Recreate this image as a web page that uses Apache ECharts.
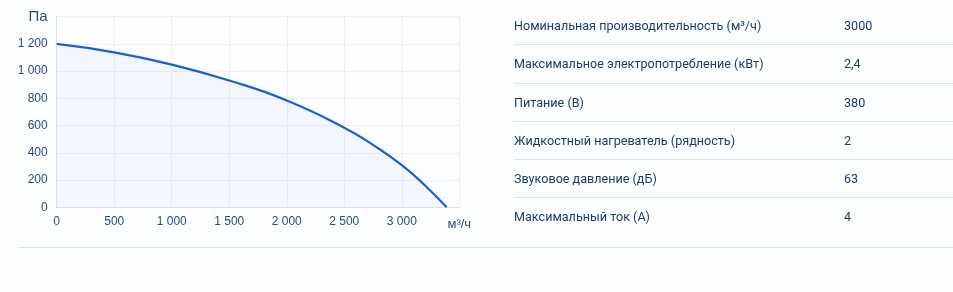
<!DOCTYPE html>
<html>
<head>
<meta charset="utf-8">
<script src="https://cdn.jsdelivr.net/npm/echarts@6/dist/echarts.min.js"></script>
<style>
  html, body { margin: 0; padding: 0; background: #fcfdff; }
  #wrap { position: relative; width: 953px; height: 292px; }
  #chart { position: absolute; left: 0; top: 0; width: 953px; height: 292px; }
  #specs { position: absolute; left: 514px; top: 7px; width: 439px; font-family: Roboto, "Noto Sans", sans-serif; font-size: 12.6px; color: #1f3a6e; }
  .row { height: 37.3px; border-bottom: 1px solid #dfe3ec; position: relative; }
  .row span { position: absolute; top: 11px; }
  .row .v { left: 330px; }
  #bottomLine { position: absolute; left: 19px; top: 247px; width: 934px; border-top: 1px solid #dfe3ec; }
</style>
</head>
<body>
<div id="wrap">
  <div id="chart"></div>
  <div id="specs"></div>
  <div id="bottomLine"></div>
</div>
<script>
// performance curve: airflow (m3/h) vs pressure (Pa)
const flow = [0, 500, 1000, 1500, 2000, 2500, 2750, 3000, 3200, 3390];
const pressure = [1200, 1138, 1048, 931, 785, 585, 458, 310, 162, 0];

const specNames = [
  "Номинальная производительность (м³/ч)",
  "Максимальное электропотребление (кВт)",
  "Питание (В)",
  "Жидкостный нагреватель (рядность)",
  "Звуковое давление (дБ)",
  "Максимальный ток (А)"
];
const specValues = ["3000", "2,4", "380", "2", "63", "4"];

const specs = document.getElementById("specs");
specNames.forEach((n, i) => {
  const row = document.createElement("div");
  row.className = "row";
  if (i === specNames.length - 1) row.style.borderBottom = "none";
  row.innerHTML = `<span>${n}</span><span class="v">${specValues[i]}</span>`;
  specs.appendChild(row);
});

const fmt = (v) => String(v).replace(/\B(?=(\d{3})+(?!\d))/g, " ");
const labelColor = "#2d4a86";

const chart = echarts.init(document.getElementById("chart"));
chart.setOption({
  animation: false,
  grid: { left: 56.7, right: 493.7, top: 16.7, bottom: 84.7 },
  xAxis: {
    type: "value", min: 0, max: 3500, interval: 500,
    axisLine: { show: true, lineStyle: { color: "#dde0e8" } },
    axisTick: { show: false },
    splitLine: { show: true, lineStyle: { color: "#eceef3" } },
    axisLabel: {
      color: labelColor, fontFamily: "Liberation Sans", fontSize: 12, margin: 8,
      formatter: (v) => v === 3500 ? "{u|м³/ч}" : fmt(v),
      rich: { u: { fontSize: 13, color: labelColor, fontFamily: "Liberation Sans", padding: [3, 0, 0, 0] } }
    }
  },
  yAxis: {
    type: "value", min: 0, max: 1400, interval: 200,
    axisLine: { show: true, lineStyle: { color: "#dde0e8" } },
    axisTick: { show: false },
    splitLine: { show: true, lineStyle: { color: "#eceef3" } },
    axisLabel: {
      color: labelColor, fontFamily: "Liberation Sans", fontSize: 12, margin: 9,
      formatter: (v) => v === 1400 ? "{u|Па}" : fmt(v),
      rich: { u: { fontSize: 15, color: labelColor, fontFamily: "Liberation Sans" } }
    }
  },
  series: [{
    type: "line",
    data: flow.map((f, i) => [f, pressure[i]]),
    smooth: 0.5,
    symbol: "none",
    lineStyle: { color: "#1b5fd1", width: 2.2 },
    areaStyle: { color: "rgba(200,212,240,0.22)" }
  }]
});
</script>
</body>
</html>
